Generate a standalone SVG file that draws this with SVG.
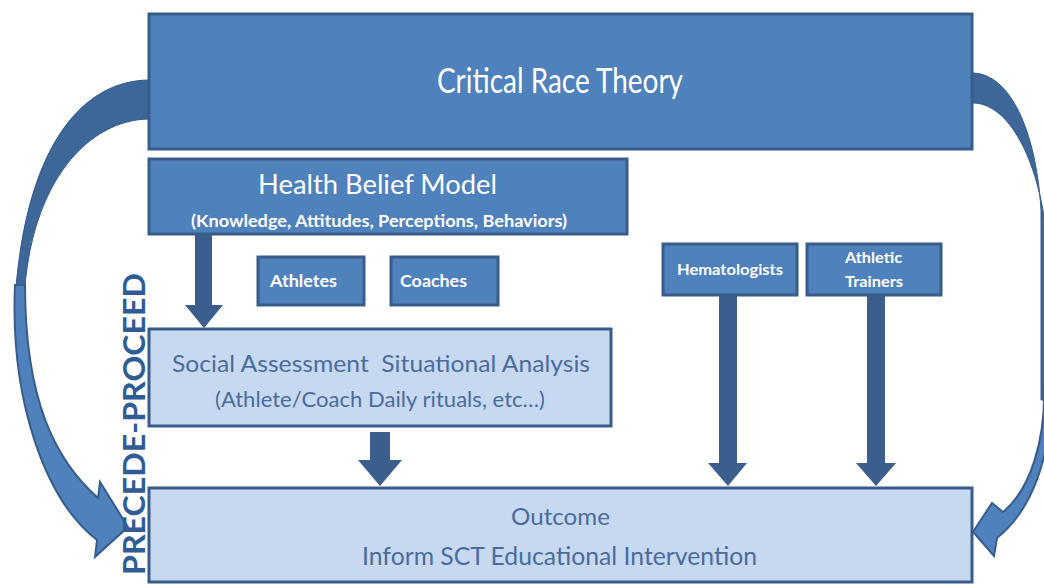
<svg xmlns="http://www.w3.org/2000/svg" width="1044" height="584" viewBox="0 0 1044 584">
<style>
.dark{fill:#4F81BD;stroke:#385D8A;stroke-width:3}
.light{fill:#C6D9F1;stroke:#385D8A;stroke-width:3}
.blk{fill:#3A5F8E}
.back{fill:#3D6799;stroke:#36598A;stroke-width:1}
.front{fill:#4F81BD;stroke:#385D8A;stroke-width:2;stroke-linejoin:miter}
text{font-family:Lato,"Open Sans","Liberation Sans",sans-serif;text-anchor:middle}
.w{fill:#FFFFFF}
.b{fill:#4A6C9E}
.bold{font-weight:bold}
</style>
<rect width="1044" height="584" fill="#FFFFFF"/>
<g id="connectors">
  <path class="back" d="M150,80 C80,80 25,150 15,300 L24,300 C30,180 90,119 150,119 Z"/>
  <path class="front" d="M15,285 C10,400 45,500 97,540 L95,557 L128,527 L100,482 L98,498 C55,460 25,400 25,285 Z"/>
  <path class="back" d="M973,73 C1010,74 1036,130 1041,210 L1041,400 L1060,400 L1060,230 L1046,230 C1036,150 1005,103 973,103 Z"/>
  <path class="front" d="M1044,385 C1046,440 1030,490 1003,512 L992,503 L973,532 L994,556 L997,538 C1030,512 1052,460 1052,385 Z"/>
  <path class="blk" d="M195,235 L212,235 L212,305 L223,305 L204,328 L185,305 L195,305 Z"/>
  <path class="blk" d="M370,432 L390,432 L390,460 L402,460 L380,486 L358,460 L370,460 Z"/>
  <path class="blk" d="M719,296 L737,296 L737,463 L747,463 L728,486 L708,463 L719,463 Z"/>
  <path class="blk" d="M867,296 L885,296 L885,463 L896,463 L876,486 L856,463 L867,463 Z"/>
</g>
<g id="crt">
  <rect class="dark" x="149" y="14" width="823" height="135"/>
  <text class="w" x="560" y="93" font-size="34" textLength="246" lengthAdjust="spacingAndGlyphs">Critical Race Theory</text>
</g>
<g id="hbm">
  <rect class="dark" x="149" y="159" width="478" height="75"/>
  <text class="w" x="377.5" y="194" font-size="27" textLength="239" lengthAdjust="spacingAndGlyphs">Health Belief Model</text>
  <text class="w bold" x="379" y="227" font-size="17" textLength="376" lengthAdjust="spacingAndGlyphs">(Knowledge, Attitudes, Perceptions, Behaviors)</text>
</g>
<g id="athletes">
  <rect class="dark" x="258" y="257" width="106" height="48"/>
  <text class="w bold" x="303.5" y="287" font-size="17" textLength="67" lengthAdjust="spacingAndGlyphs">Athletes</text>
</g>
<g id="coaches">
  <rect class="dark" x="391" y="257" width="107" height="48"/>
  <text class="w bold" x="433.5" y="287" font-size="17" textLength="67" lengthAdjust="spacingAndGlyphs">Coaches</text>
</g>
<g id="hematologists">
  <rect class="dark" x="663" y="244" width="134" height="51"/>
  <text class="w bold" x="730" y="275" font-size="15" textLength="106" lengthAdjust="spacingAndGlyphs">Hematologists</text>
</g>
<g id="trainers">
  <rect class="dark" x="807" y="244" width="134" height="51"/>
  <text class="w bold" x="873.5" y="263" font-size="15" textLength="57" lengthAdjust="spacingAndGlyphs">Athletic</text>
  <text class="w bold" x="874" y="287" font-size="15" textLength="58" lengthAdjust="spacingAndGlyphs">Trainers</text>
</g>
<g id="social">
  <rect class="light" x="149" y="329" width="462" height="97"/>
  <text class="b" x="381" y="372" font-size="24" textLength="418" lengthAdjust="spacingAndGlyphs" style="white-space:pre" xml:space="preserve">Social Assessment  Situational Analysis</text>
  <text class="b" x="380" y="407" font-size="22" textLength="330" lengthAdjust="spacingAndGlyphs">(Athlete/Coach Daily rituals, etc…)</text>
</g>
<g id="outcome">
  <rect class="light" x="149" y="488" width="823" height="94"/>
  <text class="b" x="560.5" y="525" font-size="24" textLength="99" lengthAdjust="spacingAndGlyphs">Outcome</text>
  <text class="b" x="559.5" y="565" font-size="25" textLength="395" lengthAdjust="spacingAndGlyphs">Inform SCT Educational Intervention</text>
</g>
<g id="precede">
  <text transform="translate(145,424) rotate(-90)" x="0" y="0" font-size="30" font-weight="bold" fill="#2F5C94" textLength="302" lengthAdjust="spacingAndGlyphs">PRECEDE-PROCEED</text>
</g>
</svg>
